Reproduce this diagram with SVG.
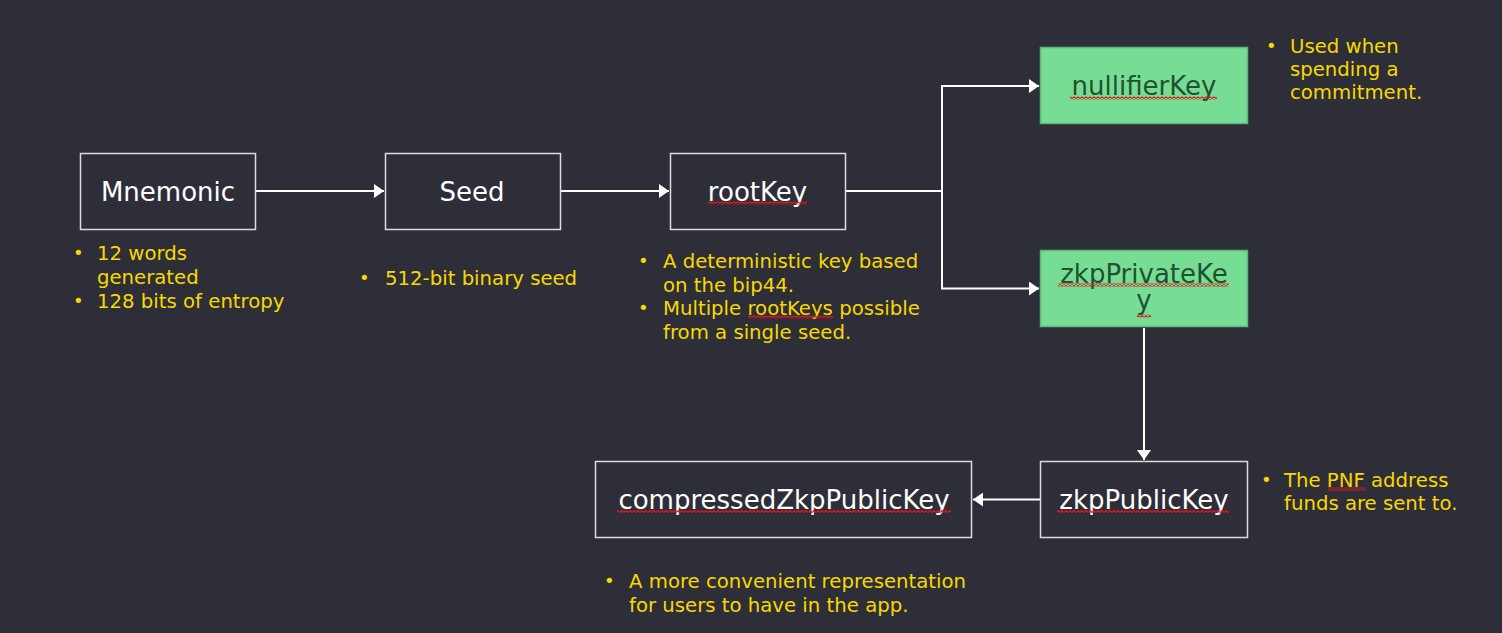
<svg xmlns="http://www.w3.org/2000/svg" width="1502" height="633" viewBox="0 0 1502 633">
<defs>
<style>
.box{fill:#2e2e38;stroke:#dcdcdc;stroke-width:1.5}
.gbox{fill:#77dd95;stroke:#5eb67a;stroke-width:1.5}
.lbl{font-family:"DejaVu Sans","Liberation Sans",sans-serif;font-size:26px;fill:#ffffff;text-anchor:middle}
.glbl{font-family:"DejaVu Sans","Liberation Sans",sans-serif;font-size:26px;fill:#1f5230;text-anchor:middle}
.note{font-family:"DejaVu Sans","Liberation Sans",sans-serif;font-size:19.7px;fill:#f7d800}
.bul{font-family:"DejaVu Sans","Liberation Sans",sans-serif;font-size:18px;fill:#f7d800}
.conn{fill:none;stroke:#ffffff;stroke-width:2}
.sq{fill:url(#squig)}
</style>
<marker id="arr" viewBox="0 0 10 14" refX="10" refY="7" markerWidth="10" markerHeight="14" markerUnits="userSpaceOnUse" orient="auto">
<path d="M0,0 L10,7 L0,14 Z" fill="#ffffff"/>
</marker>
<pattern id="squig" x="0" y="0" width="4" height="3" patternUnits="userSpaceOnUse">
<path d="M0,2.5 L2,0.5 L4,2.5" fill="none" stroke="#e8141c" stroke-width="1.2"/>
</pattern>
</defs>
<rect x="0" y="0" width="1502" height="633" fill="#2e2e38"/>

<g id="connectors">
<path class="conn" d="M256,191 L384,191" marker-end="url(#arr)"/>
<path class="conn" d="M561,191 L669,191" marker-end="url(#arr)"/>
<path class="conn" d="M846,191 L942,191 L942,86 L1039,86" marker-end="url(#arr)"/>
<path class="conn" d="M942,191 L942,288.5 L1039,288.5" marker-end="url(#arr)"/>
<path class="conn" d="M1144,328 L1144,460" marker-end="url(#arr)"/>
<path class="conn" d="M1040,499.5 L973,499.5" marker-end="url(#arr)"/>
</g>

<g id="mnemonic">
<rect class="box" x="80.5" y="153.5" width="175" height="76"/>
<text class="lbl" x="168" y="201">Mnemonic</text>
<text class="bul" x="73" y="259">•</text>
<text class="note" x="97" y="260">12 words</text>
<text class="note" x="97" y="284">generated</text>
<text class="bul" x="73" y="307">•</text>
<text class="note" x="97" y="308">128 bits of entropy</text>
</g>

<g id="seed">
<rect class="box" x="385.5" y="153.5" width="175" height="76"/>
<text class="lbl" x="472" y="201">Seed</text>
<text class="bul" x="359" y="284">•</text>
<text class="note" x="385" y="285">512-bit binary seed</text>
</g>

<g id="rootKey">
<rect class="box" x="670.5" y="153.5" width="175" height="76"/>
<text class="lbl" x="757.5" y="201">rootKey</text>
<rect class="sq" x="708" y="201.5" width="99" height="3"/>
<text class="bul" x="638" y="267">•</text>
<text class="note" x="663" y="268">A deterministic key based</text>
<text class="note" x="663" y="291.5">on the bip44.</text>
<text class="bul" x="638" y="314">•</text>
<text class="note" x="663" y="315">Multiple rootKeys possible</text>
<rect class="sq" x="748" y="315.5" width="85" height="3"/>
<text class="note" x="663" y="338.5">from a single seed.</text>
</g>

<g id="nullifierKey">
<rect class="gbox" x="1040.5" y="47.5" width="207" height="76"/>
<text class="glbl" x="1144" y="95">nullifierKey</text>
<rect class="sq" x="1070" y="96.5" width="147" height="3"/>
<text class="bul" x="1266" y="52">•</text>
<text class="note" x="1290" y="53">Used when</text>
<text class="note" x="1290" y="76">spending a</text>
<text class="note" x="1290" y="99">commitment.</text>
</g>

<g id="zkpPrivateKey">
<rect class="gbox" x="1040.5" y="250.5" width="207" height="76"/>
<text class="glbl"><tspan x="1144" y="283">zkpPrivateKe</tspan><tspan x="1144" y="309">y</tspan></text>
<rect class="sq" x="1058" y="283.5" width="171" height="3"/>
<rect class="sq" x="1137" y="314.5" width="14" height="3"/>
</g>

<g id="zkpPublicKey">
<rect class="box" x="1040.5" y="461.5" width="207" height="76"/>
<text class="lbl" x="1144" y="509">zkpPublicKey</text>
<rect class="sq" x="1057" y="510" width="172" height="3"/>
<text class="bul" x="1261" y="486">•</text>
<text class="note" x="1284" y="487">The PNF address</text>
<rect class="sq" x="1328" y="487.5" width="38" height="3"/>
<text class="note" x="1284" y="510">funds are sent to.</text>
</g>

<g id="compressedZkpPublicKey">
<rect class="box" x="595.5" y="461.5" width="376" height="76"/>
<text class="lbl" x="784" y="509">compressedZkpPublicKey</text>
<rect class="sq" x="617" y="510" width="334" height="3"/>
<text class="bul" x="604" y="587">•</text>
<text class="note" x="629" y="588">A more convenient representation</text>
<text class="note" x="629" y="611.5">for users to have in the app.</text>
</g>
</svg>
